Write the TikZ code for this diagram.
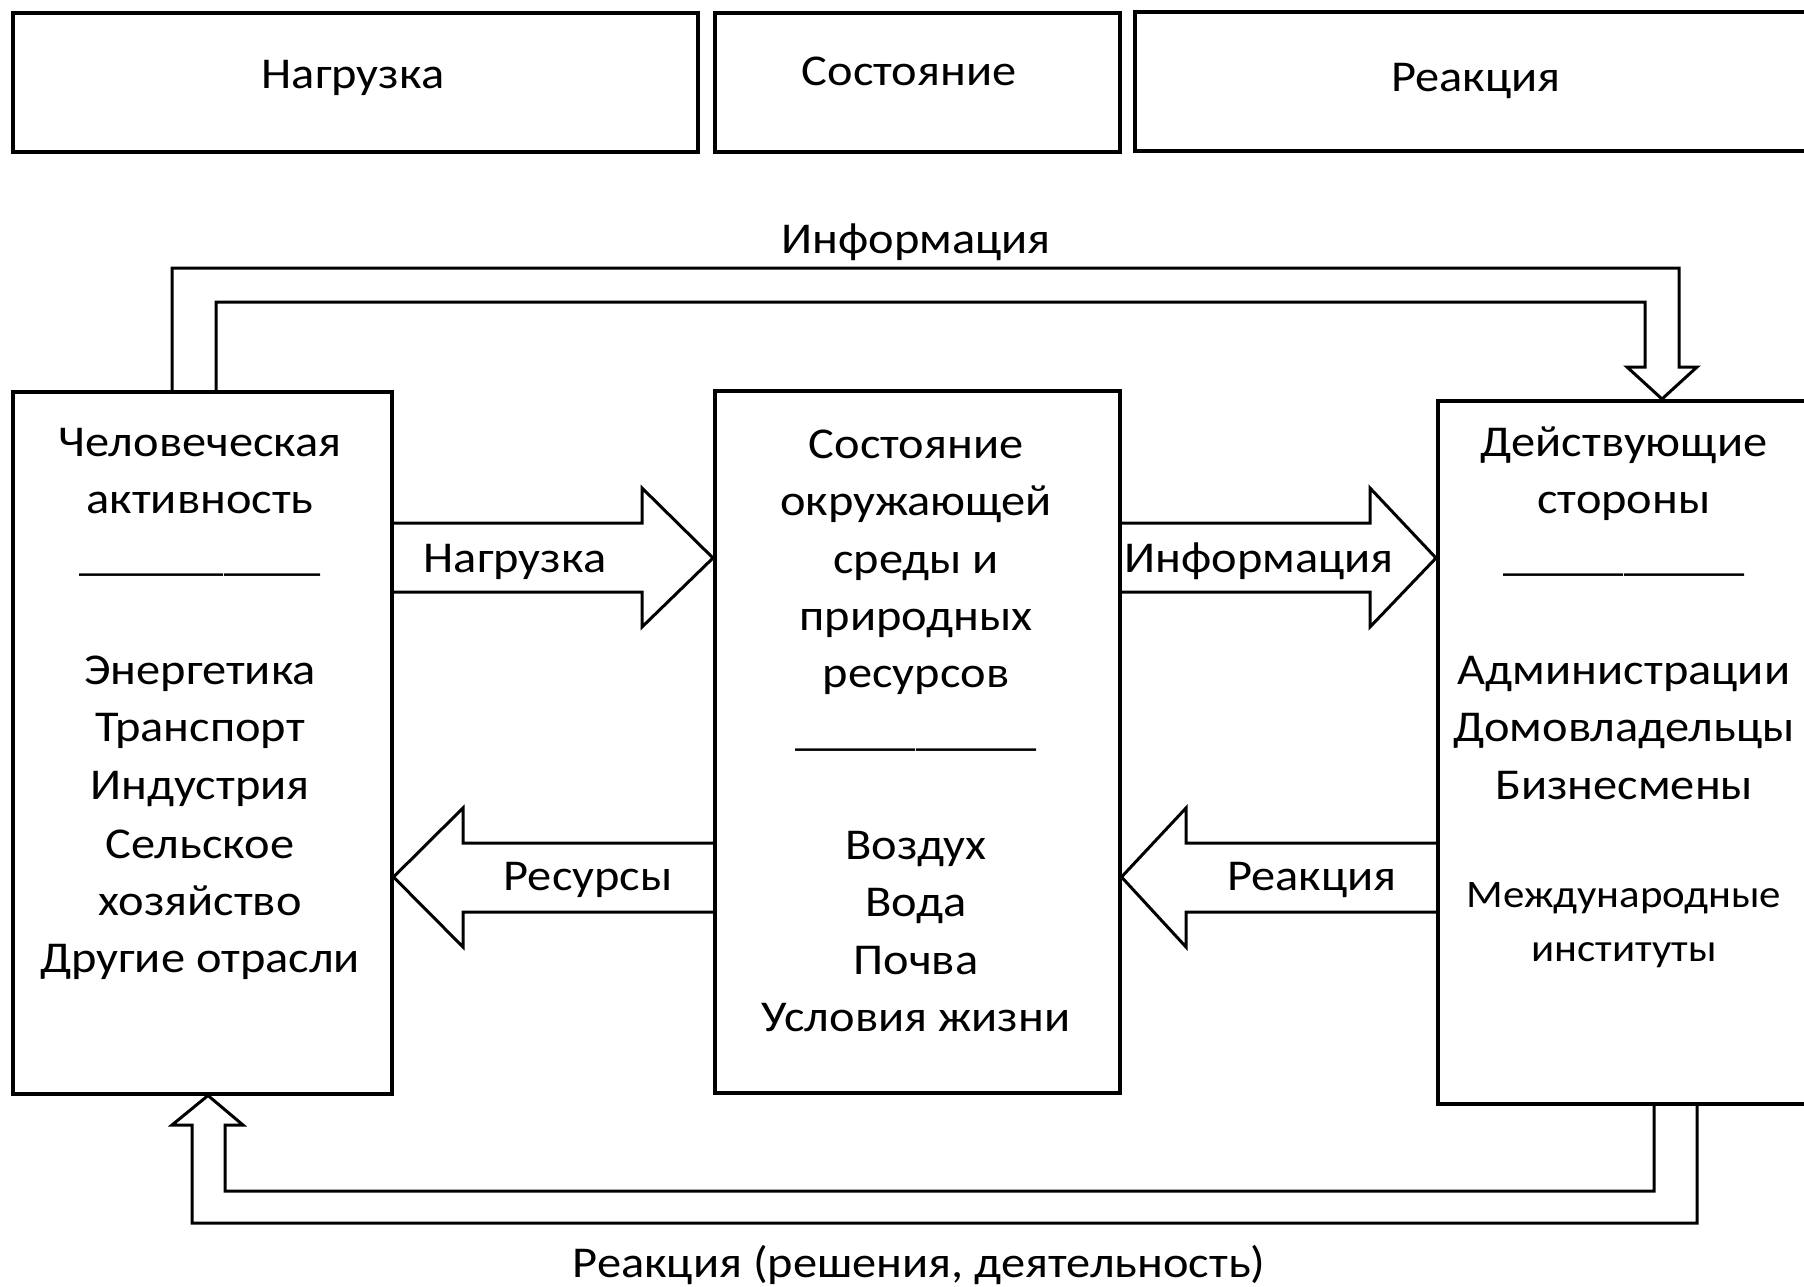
\documentclass[tikz,border=0pt]{standalone}
\usepackage{fontspec}
\setmainfont[FakeStretch=1.1]{Carlito}
\begin{document}
\begin{tikzpicture}[x=1pt,y=-1pt,
  box/.style={draw, line width=3.5pt, inner sep=0pt, anchor=north west},
  blk/.style={draw, line width=3pt, line join=miter},
  txt/.style={font=\fontsize{44}{52}\selectfont, inner sep=0pt, anchor=base},
  stxt/.style={font=\fontsize{39}{47}\selectfont, inner sep=0pt, anchor=base}]
\useasboundingbox (0,0) rectangle (1804,1286);
% top header boxes
\node[box, minimum width=685pt, minimum height=139pt] (T1) at (11,11) {};
\node[box, minimum width=405pt, minimum height=139pt] (T2) at (713,11) {};
\node[box, minimum width=679pt, minimum height=139pt] (T3) at (1133,10) {};
\node[txt] (T1t) at (353,88) {Нагрузка};
\node[txt] (T2t) at (909,85) {Состояние};
\node[txt] (T3t) at (1476,91) {Реакция};
% main boxes
\node[box, minimum width=379pt, minimum height=702pt] (L) at (11,390) {};
\node[box, minimum width=405pt, minimum height=702pt] (M) at (713,389) {};
\node[box, minimum width=376pt, minimum height=703pt] (R) at (1436,399) {};
% left box text
\foreach \t/\y [count=\i] in {Человеческая/456, активность/513, \_\_\_\_\_\_\_\_\_\_/570,
  Энергетика/684, Транспорт/741, Индустрия/799, Сельское/858, хозяйство/915, Другие отрасли/972}
  \node[txt] (Lt\i) at (200,\y) {\t};
% middle box text
\foreach \t/\y [count=\i] in {Состояние/458, окружающей/515, среды и/573, природных/630, ресурсов/687,
  \_\_\_\_\_\_\_\_\_\_/745, Воздух/859, Вода/916, Почва/974, Условия жизни/1031}
  \node[txt] (Mt\i) at (916,\y) {\t};
% right box text
\foreach \t/\y [count=\i] in {Действующие/456, стороны/513, \_\_\_\_\_\_\_\_\_\_/570,
  Администрации/684, Домовладельцы/741, Бизнесмены/799}
  \node[txt] (Rt\i) at (1624,\y) {\t};
\node[stxt] (Rs1) at (1624,907) {Международные};
\node[stxt] (Rs2) at (1624,961) {институты};
% horizontal block arrows
\draw[blk] (L.east |- 0,523) -- (642,523) -- (642,488) -- (M.west |- 0,558) -- (642,627) -- (642,592) -- (L.east |- 0,592);
\draw[blk] (M.east |- 0,523) -- (1370,523) -- (1370,488) -- (R.west |- 0,558) -- (1370,627) -- (1370,592) -- (M.east |- 0,592);
\draw[blk] (M.west |- 0,843) -- (463,843) -- (463,808) -- (L.east |- 0,877) -- (463,947) -- (463,912) -- (M.west |- 0,912);
\draw[blk] (R.west |- 0,843) -- (1186,843) -- (1186,808) -- (M.east |- 0,877) -- (1186,947) -- (1186,912) -- (R.west |- 0,912);
\node[txt] (a1) at (515,572) {Нагрузка};
\node[txt] (a2) at (1259,572) {Информация};
\node[txt] (a3) at (588,890) {Ресурсы};
\node[txt] (a4) at (1312,890) {Реакция};
% top loop
\draw[blk] (L.north -| 172,0) -- (172,268) -- (1679,268) -- (1679,367) -- (1697,367) -- (R.north -| 1662,0)
  -- (1627,367) -- (1645,367) -- (1645,302) -- (216,302) -- (L.north -| 216,0);
\node[txt] (info) at (916,253) {Информация};
% bottom loop
\draw[blk] (R.south -| 1697,0) -- (1697,1223) -- (192,1223) -- (192,1125) -- (172,1125) -- (L.south -| 208,0)
  -- (243,1125) -- (225,1125) -- (225,1191) -- (1654,1191) -- (R.south -| 1654,0);
\node[txt] (react) at (919,1277) {Реакция (решения, деятельность)};
\end{tikzpicture}
\end{document}
